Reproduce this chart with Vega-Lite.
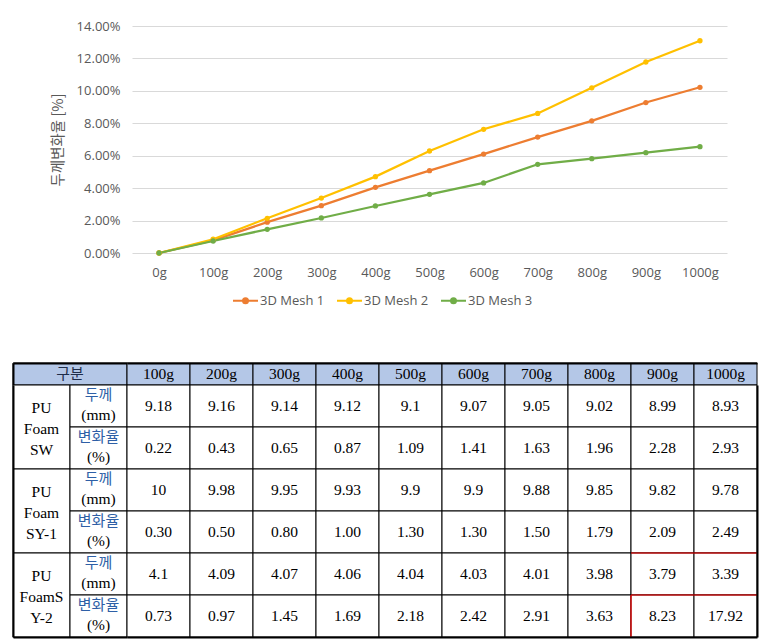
{
  "$schema": "https://vega.github.io/schema/vega-lite/v6.json",
  "background": "white",
  "padding": {"left": 12, "top": 20, "right": 5, "bottom": 5},
  "config": {"view": {"stroke": null}, "font": "Open Sans"},
  "datasets": {
    "chart": [
      {"load": 0, "series": "3D Mesh 1", "rate": 0},
      {"load": 100, "series": "3D Mesh 1", "rate": 0.0078},
      {"load": 200, "series": "3D Mesh 1", "rate": 0.0190},
      {"load": 300, "series": "3D Mesh 1", "rate": 0.0292},
      {"load": 400, "series": "3D Mesh 1", "rate": 0.0405},
      {"load": 500, "series": "3D Mesh 1", "rate": 0.0508},
      {"load": 600, "series": "3D Mesh 1", "rate": 0.0610},
      {"load": 700, "series": "3D Mesh 1", "rate": 0.0715},
      {"load": 800, "series": "3D Mesh 1", "rate": 0.0815},
      {"load": 900, "series": "3D Mesh 1", "rate": 0.0928},
      {"load": 1000, "series": "3D Mesh 1", "rate": 0.1022},
      {"load": 0, "series": "3D Mesh 2", "rate": 0},
      {"load": 100, "series": "3D Mesh 2", "rate": 0.0085},
      {"load": 200, "series": "3D Mesh 2", "rate": 0.0214},
      {"load": 300, "series": "3D Mesh 2", "rate": 0.0339},
      {"load": 400, "series": "3D Mesh 2", "rate": 0.0471},
      {"load": 500, "series": "3D Mesh 2", "rate": 0.0629},
      {"load": 600, "series": "3D Mesh 2", "rate": 0.0763},
      {"load": 700, "series": "3D Mesh 2", "rate": 0.0861},
      {"load": 800, "series": "3D Mesh 2", "rate": 0.1019},
      {"load": 900, "series": "3D Mesh 2", "rate": 0.1178},
      {"load": 1000, "series": "3D Mesh 2", "rate": 0.1309},
      {"load": 0, "series": "3D Mesh 3", "rate": 0},
      {"load": 100, "series": "3D Mesh 3", "rate": 0.0074},
      {"load": 200, "series": "3D Mesh 3", "rate": 0.0146},
      {"load": 300, "series": "3D Mesh 3", "rate": 0.0216},
      {"load": 400, "series": "3D Mesh 3", "rate": 0.0290},
      {"load": 500, "series": "3D Mesh 3", "rate": 0.0362},
      {"load": 600, "series": "3D Mesh 3", "rate": 0.0432},
      {"load": 700, "series": "3D Mesh 3", "rate": 0.0547},
      {"load": 800, "series": "3D Mesh 3", "rate": 0.0582},
      {"load": 900, "series": "3D Mesh 3", "rate": 0.0619},
      {"load": 1000, "series": "3D Mesh 3", "rate": 0.0656}
    ],
    "gubun": [{"label": "구분"}],
    "loads": [
      {"load": "100g"}, {"load": "200g"}, {"load": "300g"}, {"load": "400g"}, {"load": "500g"},
      {"load": "600g"}, {"load": "700g"}, {"load": "800g"}, {"load": "900g"}, {"load": "1000g"}
    ],
    "samples": [
      {"sample": "PU Foam SW", "label": "PU\nFoam\nSW"},
      {"sample": "PU Foam SY-1", "label": "PU\nFoam\nSY-1"},
      {"sample": "PU Foam SY-2", "label": "PU\nFoamS\nY-2"}
    ],
    "metrics": [
      {"sample": "PU Foam SW", "metric": "두께", "unit": "(mm)"},
      {"sample": "PU Foam SW", "metric": "변화율", "unit": "(%)"},
      {"sample": "PU Foam SY-1", "metric": "두께", "unit": "(mm)"},
      {"sample": "PU Foam SY-1", "metric": "변화율", "unit": "(%)"},
      {"sample": "PU Foam SY-2", "metric": "두께", "unit": "(mm)"},
      {"sample": "PU Foam SY-2", "metric": "변화율", "unit": "(%)"}
    ],
    "highlight": [
      {"sample": "PU Foam SY-2", "metric": "두께", "load": "900g", "edge": "top-bottom"},
      {"sample": "PU Foam SY-2", "metric": "두께", "load": "1000g", "edge": "top-bottom"},
      {"sample": "PU Foam SY-2", "metric": "변화율", "load": "900g", "edge": "left"}
    ],
    "table": [
      {"sample": "PU Foam SW", "metric": "두께", "load": "100g", "value": "9.18"},
      {"sample": "PU Foam SW", "metric": "두께", "load": "200g", "value": "9.16"},
      {"sample": "PU Foam SW", "metric": "두께", "load": "300g", "value": "9.14"},
      {"sample": "PU Foam SW", "metric": "두께", "load": "400g", "value": "9.12"},
      {"sample": "PU Foam SW", "metric": "두께", "load": "500g", "value": "9.1"},
      {"sample": "PU Foam SW", "metric": "두께", "load": "600g", "value": "9.07"},
      {"sample": "PU Foam SW", "metric": "두께", "load": "700g", "value": "9.05"},
      {"sample": "PU Foam SW", "metric": "두께", "load": "800g", "value": "9.02"},
      {"sample": "PU Foam SW", "metric": "두께", "load": "900g", "value": "8.99"},
      {"sample": "PU Foam SW", "metric": "두께", "load": "1000g", "value": "8.93"},
      {"sample": "PU Foam SW", "metric": "변화율", "load": "100g", "value": "0.22"},
      {"sample": "PU Foam SW", "metric": "변화율", "load": "200g", "value": "0.43"},
      {"sample": "PU Foam SW", "metric": "변화율", "load": "300g", "value": "0.65"},
      {"sample": "PU Foam SW", "metric": "변화율", "load": "400g", "value": "0.87"},
      {"sample": "PU Foam SW", "metric": "변화율", "load": "500g", "value": "1.09"},
      {"sample": "PU Foam SW", "metric": "변화율", "load": "600g", "value": "1.41"},
      {"sample": "PU Foam SW", "metric": "변화율", "load": "700g", "value": "1.63"},
      {"sample": "PU Foam SW", "metric": "변화율", "load": "800g", "value": "1.96"},
      {"sample": "PU Foam SW", "metric": "변화율", "load": "900g", "value": "2.28"},
      {"sample": "PU Foam SW", "metric": "변화율", "load": "1000g", "value": "2.93"},
      {"sample": "PU Foam SY-1", "metric": "두께", "load": "100g", "value": "10"},
      {"sample": "PU Foam SY-1", "metric": "두께", "load": "200g", "value": "9.98"},
      {"sample": "PU Foam SY-1", "metric": "두께", "load": "300g", "value": "9.95"},
      {"sample": "PU Foam SY-1", "metric": "두께", "load": "400g", "value": "9.93"},
      {"sample": "PU Foam SY-1", "metric": "두께", "load": "500g", "value": "9.9"},
      {"sample": "PU Foam SY-1", "metric": "두께", "load": "600g", "value": "9.9"},
      {"sample": "PU Foam SY-1", "metric": "두께", "load": "700g", "value": "9.88"},
      {"sample": "PU Foam SY-1", "metric": "두께", "load": "800g", "value": "9.85"},
      {"sample": "PU Foam SY-1", "metric": "두께", "load": "900g", "value": "9.82"},
      {"sample": "PU Foam SY-1", "metric": "두께", "load": "1000g", "value": "9.78"},
      {"sample": "PU Foam SY-1", "metric": "변화율", "load": "100g", "value": "0.30"},
      {"sample": "PU Foam SY-1", "metric": "변화율", "load": "200g", "value": "0.50"},
      {"sample": "PU Foam SY-1", "metric": "변화율", "load": "300g", "value": "0.80"},
      {"sample": "PU Foam SY-1", "metric": "변화율", "load": "400g", "value": "1.00"},
      {"sample": "PU Foam SY-1", "metric": "변화율", "load": "500g", "value": "1.30"},
      {"sample": "PU Foam SY-1", "metric": "변화율", "load": "600g", "value": "1.30"},
      {"sample": "PU Foam SY-1", "metric": "변화율", "load": "700g", "value": "1.50"},
      {"sample": "PU Foam SY-1", "metric": "변화율", "load": "800g", "value": "1.79"},
      {"sample": "PU Foam SY-1", "metric": "변화율", "load": "900g", "value": "2.09"},
      {"sample": "PU Foam SY-1", "metric": "변화율", "load": "1000g", "value": "2.49"},
      {"sample": "PU Foam SY-2", "metric": "두께", "load": "100g", "value": "4.1"},
      {"sample": "PU Foam SY-2", "metric": "두께", "load": "200g", "value": "4.09"},
      {"sample": "PU Foam SY-2", "metric": "두께", "load": "300g", "value": "4.07"},
      {"sample": "PU Foam SY-2", "metric": "두께", "load": "400g", "value": "4.06"},
      {"sample": "PU Foam SY-2", "metric": "두께", "load": "500g", "value": "4.04"},
      {"sample": "PU Foam SY-2", "metric": "두께", "load": "600g", "value": "4.03"},
      {"sample": "PU Foam SY-2", "metric": "두께", "load": "700g", "value": "4.01"},
      {"sample": "PU Foam SY-2", "metric": "두께", "load": "800g", "value": "3.98"},
      {"sample": "PU Foam SY-2", "metric": "두께", "load": "900g", "value": "3.79"},
      {"sample": "PU Foam SY-2", "metric": "두께", "load": "1000g", "value": "3.39"},
      {"sample": "PU Foam SY-2", "metric": "변화율", "load": "100g", "value": "0.73"},
      {"sample": "PU Foam SY-2", "metric": "변화율", "load": "200g", "value": "0.97"},
      {"sample": "PU Foam SY-2", "metric": "변화율", "load": "300g", "value": "1.45"},
      {"sample": "PU Foam SY-2", "metric": "변화율", "load": "400g", "value": "1.69"},
      {"sample": "PU Foam SY-2", "metric": "변화율", "load": "500g", "value": "2.18"},
      {"sample": "PU Foam SY-2", "metric": "변화율", "load": "600g", "value": "2.42"},
      {"sample": "PU Foam SY-2", "metric": "변화율", "load": "700g", "value": "2.91"},
      {"sample": "PU Foam SY-2", "metric": "변화율", "load": "800g", "value": "3.63"},
      {"sample": "PU Foam SY-2", "metric": "변화율", "load": "900g", "value": "8.23"},
      {"sample": "PU Foam SY-2", "metric": "변화율", "load": "1000g", "value": "17.92"}
    ]
  },
  "spacing": 83,
  "vconcat": [
    {
      "spacing": 0,
      "bounds": "flush",
      "hconcat": [
        {"width": 119, "height": 227, "data": {"values": []}, "mark": "point"},
        {
          "width": 595,
          "height": 227,
          "data": {"name": "chart"},
          "mark": {"type": "line", "strokeWidth": 2.25, "point": {"filled": true, "size": 28}},
          "encoding": {
            "x": {
              "field": "load", "type": "quantitative",
              "scale": {"domain": [-50, 1050], "nice": false, "zero": false},
              "axis": {"values": [0, 100, 200, 300, 400, 500, 600, 700, 800, 900, 1000], "labelExpr": "datum.value + 'g'", "grid": false, "domain": false, "ticks": false, "title": null, "labelFontSize": 13, "labelColor": "#595959", "labelPadding": 13, "labelFlush": false, "labelOverlap": false}
            },
            "y": {
              "field": "rate", "type": "quantitative",
              "scale": {"domain": [0, 0.14], "nice": false},
              "axis": {"values": [0, 0.02, 0.04, 0.06, 0.08, 0.1, 0.12, 0.14], "format": ".2%", "gridColor": "#d9d9d9", "domain": false, "ticks": false, "labelFontSize": 13, "labelColor": "#595959", "labelPadding": 12, "labelOverlap": false, "title": "두께변화율 [%]", "titleFont": "Noto Sans CJK KR", "titleFontSize": 14.5, "titleFontWeight": "normal", "titleColor": "#595959", "titlePadding": 11}
            },
            "color": {
              "field": "series", "type": "nominal",
              "scale": {"domain": ["3D Mesh 1", "3D Mesh 2", "3D Mesh 3"], "range": ["#ED7D31", "#FFC000", "#70AD47"]},
              "legend": {"orient": "none", "legendX": 219, "legendY": 261, "direction": "horizontal", "title": null, "symbolType": "M-1,0H1M0,-0.2A0.2,0.2 0 1,1 0,0.2A0.2,0.2 0 1,1 0,-0.2", "symbolSize": 625, "symbolStrokeWidth": 2, "labelFontSize": 13, "labelColor": "#595959", "labelOffset": 1, "columnPadding": 8, "padding": 0, "encode": {"symbols": {"update": {"fill": {"scale": "color", "field": "value"}}}}}
            }
          }
        }
      ]
    },
    {
      "columns": 2,
      "spacing": 0,
      "bounds": "flush",
      "concat": [
        {
          "width": 114, "height": 22,
          "data": {"name": "gubun"},
          "encoding": {
            "x": {"field": "label", "type": "nominal", "scale": {"paddingInner": 0, "paddingOuter": 0}, "axis": {"orient": "top", "labels": false, "ticks": false, "title": null, "domainColor": "black", "domainWidth": 2, "zindex": 3}},
            "y": {"field": "label", "type": "nominal", "scale": {"paddingInner": 0, "paddingOuter": 0}, "axis": {"orient": "left", "labels": false, "ticks": false, "title": null, "domainColor": "black", "domainWidth": 2, "zindex": 3}}
          },
          "layer": [
            {"mark": {"type": "rect", "fill": "#b4c7e7", "stroke": "black", "strokeWidth": 1}},
            {"mark": {"type": "text", "font": "Noto Sans CJK KR", "fontSize": 15, "color": "#1f2d4a"}, "encoding": {"text": {"field": "label"}}}
          ]
        },
        {
          "width": 630, "height": 22,
          "data": {"name": "loads"},
          "encoding": {
            "x": {"field": "load", "type": "nominal", "sort": null, "scale": {"paddingInner": 0, "paddingOuter": 0}, "axis": {"orient": "top", "labels": false, "ticks": false, "title": null, "domainColor": "black", "domainWidth": 2, "zindex": 3}}
          },
          "layer": [
            {"mark": {"type": "rect", "fill": "#b4c7e7", "stroke": "black", "strokeWidth": 1}},
            {"mark": {"type": "text", "font": "Liberation Serif", "fontSize": 15.5, "color": "black"}, "encoding": {"text": {"field": "load"}}}
          ]
        },
        {
          "width": 114, "height": 252,
          "encoding": {
            "y": {"field": "sample", "type": "nominal", "sort": null, "scale": {"domain": ["PU Foam SW", "PU Foam SY-1", "PU Foam SY-2"], "paddingInner": 0, "paddingOuter": 0}, "axis": {"orient": "left", "labels": false, "ticks": false, "title": null, "domainColor": "black", "domainWidth": 2, "zindex": 3}}
          },
          "layer": [
            {
              "data": {"name": "samples"},
              "encoding": {"x": {"datum": "시료", "type": "nominal", "scale": {"domain": ["시료", "항목"], "paddingInner": 0, "paddingOuter": 0}, "axis": {"orient": "bottom", "labels": false, "ticks": false, "title": null, "domainColor": "black", "domainWidth": 2, "zindex": 3}}},
              "layer": [
                {"mark": {"type": "rect", "fill": "white", "stroke": "black", "strokeWidth": 1}},
                {"mark": {"type": "text", "font": "Liberation Serif", "fontSize": 15.5, "color": "black", "lineBreak": "\n", "lineHeight": 21, "dy": -19}, "encoding": {"text": {"field": "label"}}}
              ]
            },
            {
              "data": {"name": "metrics"},
              "encoding": {
                "x": {"datum": "항목", "type": "nominal"},
                "yOffset": {"field": "metric", "type": "nominal", "sort": null, "scale": {"domain": ["두께", "변화율"], "paddingInner": 0, "paddingOuter": 0}}
              },
              "layer": [
                {"mark": {"type": "rect", "fill": "white", "stroke": "black", "strokeWidth": 1}},
                {"mark": {"type": "text", "font": "Noto Sans CJK KR", "fontSize": 15, "color": "#2e5fa6", "dy": -11}, "encoding": {"text": {"field": "metric"}}},
                {"mark": {"type": "text", "font": "Liberation Serif", "fontSize": 15.5, "color": "black", "dy": 9}, "encoding": {"text": {"field": "unit"}}}
              ]
            }
          ]
        },
        {
          "width": 630, "height": 252,
          "encoding": {
            "x": {"field": "load", "type": "nominal", "sort": null, "scale": {"domain": ["100g", "200g", "300g", "400g", "500g", "600g", "700g", "800g", "900g", "1000g"], "paddingInner": 0, "paddingOuter": 0}, "axis": {"orient": "bottom", "labels": false, "ticks": false, "title": null, "domainColor": "black", "domainWidth": 2, "zindex": 3}},
            "y": {"field": "sample", "type": "nominal", "sort": null, "scale": {"domain": ["PU Foam SW", "PU Foam SY-1", "PU Foam SY-2"], "paddingInner": 0, "paddingOuter": 0}, "axis": {"orient": "right", "labels": false, "ticks": false, "title": null, "domainColor": "black", "domainWidth": 2, "zindex": 3}},
            "yOffset": {"field": "metric", "type": "nominal", "sort": null, "scale": {"domain": ["두께", "변화율"], "paddingInner": 0, "paddingOuter": 0}}
          },
          "layer": [
            {"data": {"name": "table"}, "mark": {"type": "rect", "fill": "white", "stroke": "black", "strokeWidth": 1}},
            {"data": {"name": "highlight"}, "transform": [{"filter": "datum.edge == 'top-bottom'"}], "mark": {"type": "rect", "filled": false, "stroke": "#ff0000", "strokeWidth": 1.2, "strokeDash": [63, 42]}},
            {"data": {"name": "highlight"}, "transform": [{"filter": "datum.edge == 'left'"}], "mark": {"type": "rect", "filled": false, "stroke": "#ff0000", "strokeWidth": 1.2, "strokeDash": [0, 168, 42, 500]}},
            {"data": {"name": "table"}, "mark": {"type": "text", "font": "Liberation Serif", "fontSize": 15.5, "color": "black"}, "encoding": {"text": {"field": "value"}}}
          ]
        }
      ]
    }
  ]
}
